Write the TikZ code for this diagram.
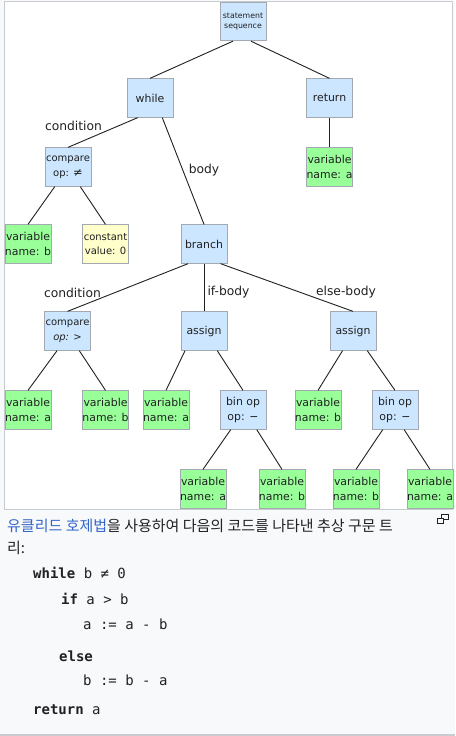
\documentclass[tikz,border=0pt]{standalone}
\usepackage{fontspec}
\setsansfont{DejaVu Sans}
\setmonofont{DejaVu Sans Mono}
\newfontfamily\krfont{Noto Sans CJK KR}
\usetikzlibrary{calc}
\definecolor{nodeblue}{HTML}{CCE6FF}
\definecolor{nodegreen}{HTML}{99FF99}
\definecolor{nodeyellow}{HTML}{FFFFCC}
\definecolor{nodeframe}{HTML}{A2A9B1}
\definecolor{pagegray}{HTML}{F8F9FA}
\definecolor{boxframe}{HTML}{C8CCD1}
\definecolor{linkblue}{HTML}{3366CC}
\definecolor{textdark}{HTML}{202122}

\begin{document}
\begin{tikzpicture}[x=1pt,y=-1pt,
  astbox/.style={draw=nodeframe,line width=0.8pt,minimum width=46pt,minimum height=38.5pt,
    inner sep=0pt,align=center,text=textdark,font=\sffamily\fontsize{10.9}{14.7}\selectfont},
  astop/.style={astbox,fill=nodeblue},
  astvar/.style={astbox,fill=nodegreen},
  astconst/.style={astbox,fill=nodeyellow},
  rolelabel/.style={text=textdark,inner sep=0pt,font=\sffamily\fontsize{12.3}{14}\selectfont},
  treeline/.style={draw=textdark,line width=0.9pt},
  codeline/.style={anchor=base west,inner sep=0pt,text=textdark,font=\ttfamily\fontsize{14}{16}\selectfont}]
  \useasboundingbox (0,0) rectangle (455,736);
  \fill[pagegray] (0,0) rectangle (455,736);
  \draw[boxframe,fill=white] (4.5,1.5) rectangle (452,509.5);
  \draw[boxframe,line width=2pt] (0,735) -- (455,735);

  % tree
  \node[astop,font=\sffamily\fontsize{7.8}{10}\selectfont] (seq) at (243,21.5) {statement\\sequence};
  \node[astop] (loop) at (150,98) {while};
  \node[astop] (ret) at (329.5,98) {return};
  \node[astop,font=\sffamily\fontsize{10}{14.7}\selectfont] (cmpne) at (68,167) {compare\\op: {\fontsize{11.5}{14}\selectfont ≠}};
  \node[astvar] (reta) at (329.5,167) {variable\\name: a};
  \node[astvar] (condb) at (28,244) {variable\\name: b};
  \node[astconst,font=\sffamily\fontsize{10}{14.7}\selectfont] (zero) at (105.5,244) {constant\\value: 0};
  \node[astop] (br) at (204,244) {branch};
  \node[astop,font=\sffamily\fontsize{10}{14.7}\selectfont] (cmpgt) at (67.5,331) {compare\\\itshape op: >};
  \node[astop] (asgif) at (204,331) {assign};
  \node[astop] (asgelse) at (353,331) {assign};
  \node[astvar] (gta) at (28,410) {variable\\name: a};
  \node[astvar] (gtb) at (105.5,410) {variable\\name: b};
  \node[astvar] (ifa) at (166,410) {variable\\name: a};
  \node[astop] (subif) at (243,410) {bin op\\op: −};
  \node[astvar] (elseb) at (318,410) {variable\\name: b};
  \node[astop] (subelse) at (395,410) {bin op\\op: −};
  \node[astvar] (subifa) at (203,489) {variable\\name: a};
  \node[astvar] (subifb) at (282,489) {variable\\name: b};
  \node[astvar] (subelseb) at (356,489) {variable\\name: b};
  \node[astvar] (subelsea) at (430,489) {variable\\name: a};

  \draw[treeline] (seq.243) -- (loop.north);
  \draw[treeline] (seq.292) -- (ret.north);
  \draw[treeline] (loop.238) -- (cmpne.north);
  \draw[treeline] (loop.302) -- (br.north);
  \draw[treeline] (ret.south) -- (reta.north);
  \draw[treeline] (cmpne.236) -- (condb.north);
  \draw[treeline] (cmpne.302) -- (zero.north);
  \draw[treeline] (br.231) -- (cmpgt.north);
  \draw[treeline] (br.south) -- (asgif.north);
  \draw[treeline] (br.310) -- (asgelse.north);
  \draw[treeline] (cmpgt.242) -- (gta.north);
  \draw[treeline] (cmpgt.301) -- (gtb.north);
  \draw[treeline] (asgif.226) -- (ifa.north);
  \draw[treeline] (asgif.304) -- (subif.north);
  \draw[treeline] (asgelse.242) -- (elseb.north);
  \draw[treeline] (asgelse.306) -- (subelse.north);
  \draw[treeline] (subif.238) -- (subifa.north);
  \draw[treeline] (subif.305) -- (subifb.north);
  \draw[treeline] (subelse.238) -- (subelseb.north);
  \draw[treeline] (subelse.295) -- (subelsea.north);

  % edge roles
  \node[rolelabel] (condwhile) at (73.5,126) {condition};
  \node[rolelabel] (body) at (204,170) {body};
  \node[rolelabel] (condif) at (72.5,293) {condition};
  \node[rolelabel] (ifbody) at (228.5,292) {if-body};
  \node[rolelabel] (elsebody) at (346,292) {else-body};

  % caption
  \node[anchor=base west,inner sep=0pt,text=textdark,font=\krfont\fontsize{15}{20}\selectfont] (cap) at (7,531.5)
    {\textcolor{linkblue}{유클리드 호제법}을 사용하여 다음의 코드를 나타낸 추상 구문 트};
  \node[anchor=base west,inner sep=0pt,text=textdark,font=\krfont\fontsize{15}{20}\selectfont] (capend) at (7,553) {리:};
  \draw[textdark,line width=0.8pt] (441.5,514.5) rectangle (448,519.5);
  \draw[textdark,line width=0.8pt,fill=pagegray] (437.5,518) rectangle (443,523);

  % code
  \node[codeline] (c1) at (33,578) {\textbf{while} b ≠ 0};
  \node[codeline] (c2) at (61,604) {\textbf{if} a > b};
  \node[codeline] (c3) at (83,629) {a := a - b};
  \node[codeline] (c4) at (59,661) {\textbf{else}};
  \node[codeline] (c5) at (83,685) {b := b - a};
  \node[codeline] (c6) at (33,714) {\textbf{return} a};
\end{tikzpicture}
\end{document}
